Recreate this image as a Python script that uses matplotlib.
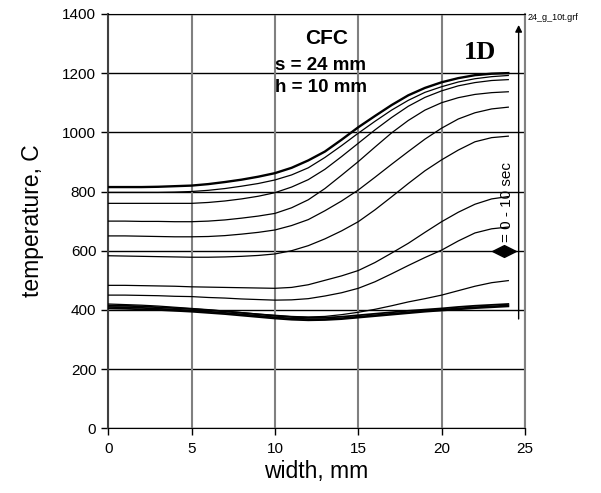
import matplotlib
matplotlib.use("Agg")
import matplotlib.pyplot as plt
from matplotlib.path import Path

plt.rcParams['font.family'] = ['Liberation Sans', 'DejaVu Sans']

width_mm = list(range(0, 25))

c1 = [815, 815, 815, 816, 818, 820, 825, 832, 840, 850, 862, 880, 905, 935, 975, 1017, 1055, 1092, 1125, 1150, 1169, 1183, 1193, 1198, 1200]
c2 = [797, 797, 797, 797, 798, 800, 804, 810, 818, 827, 839, 856, 880, 915, 955, 997, 1037, 1075, 1108, 1135, 1154, 1170, 1181, 1188, 1192]
c3 = [760, 760, 760, 760, 760, 760, 763, 768, 775, 784, 796, 815, 840, 875, 918, 963, 1008, 1050, 1088, 1118, 1140, 1157, 1168, 1175, 1178]
c4 = [700, 700, 699, 699, 698, 698, 700, 704, 710, 717, 726, 745, 772, 810, 855, 901, 950, 998, 1040, 1075, 1100, 1117, 1128, 1134, 1137]
c5 = [650, 650, 649, 648, 647, 647, 648, 651, 656, 662, 670, 685, 705, 735, 768, 805, 848, 892, 935, 977, 1014, 1045, 1066, 1079, 1085]
c6 = [583, 582, 581, 580, 579, 578, 578, 579, 581, 584, 589, 600, 617, 640, 667, 698, 738, 782, 827, 870, 907, 940, 968, 982, 987]
c7 = [483, 483, 482, 481, 480, 478, 477, 476, 475, 474, 473, 476, 485, 500, 515, 533, 560, 592, 625, 662, 698, 730, 757, 775, 783]
c8 = [450, 450, 449, 448, 446, 445, 442, 440, 437, 435, 433, 434, 438, 447, 458, 473, 495, 522, 550, 577, 602, 633, 660, 674, 680]
c9 = [420, 418, 416, 413, 409, 405, 401, 396, 391, 386, 382, 378, 376, 378, 384, 392, 402, 414, 427, 438, 450, 465, 480, 492, 499]
b1 = [415, 414, 412, 409, 406, 403, 399, 395, 390, 385, 380, 376, 374, 374, 377, 382, 387, 392, 397, 401, 405, 410, 414, 417, 420]
b2 = [410, 409, 407, 404, 401, 398, 394, 390, 385, 380, 375, 371, 369, 369, 372, 377, 382, 387, 392, 397, 401, 405, 409, 412, 415]
b3 = [405, 404, 402, 400, 397, 394, 390, 386, 381, 376, 371, 367, 365, 366, 369, 374, 379, 384, 389, 394, 398, 402, 406, 409, 412]

thin_curves = [c2, c3, c4, c5, c6, c7, c8, c9]
bunch_curves = [b1, b2, b3]

x_ticks = [0, 5, 10, 15, 20, 25]
y_ticks = [0, 200, 400, 600, 800, 1000, 1200, 1400]

fig = plt.figure(figsize=(6.01, 4.93), dpi=100)
ax = fig.add_axes([0.180, 0.1312, 0.6935, 0.8406])

ax.set_xlim(0, 25)
ax.set_ylim(0, 1400)
ax.set_xticks(x_ticks)
ax.set_yticks(y_ticks)
ax.tick_params(axis='both', direction='out', length=5, width=1, labelsize=11, colors='black')
ax.tick_params(axis='x', pad=5)

for yv in y_ticks:
    ax.axhline(yv, color='black', lw=1.0, zorder=1)
for xv in x_ticks:
    ax.axvline(xv, color='#808080', lw=1.5, zorder=1)

ax.spines['left'].set_color('#404040')
ax.spines['left'].set_linewidth(1.5)
ax.spines['right'].set_color('#808080')
ax.spines['right'].set_linewidth(1.5)
ax.spines['top'].set_color('black')
ax.spines['bottom'].set_color('black')

for c in thin_curves:
    ax.plot(width_mm, c, color='black', lw=0.9, zorder=3)
ax.plot(width_mm, c1, color='black', lw=1.7, zorder=3)
for c in bunch_curves:
    ax.plot(width_mm, c, color='black', lw=1.3, zorder=3)

ax.set_xlabel('width, mm', fontsize=16.5, labelpad=3)
ax.set_ylabel('temperature, C', fontsize=16.5, labelpad=13)

ax.text(13.1, 1318, 'CFC', fontsize=15, fontweight='bold', ha='center', va='center')
ax.text(10.0, 1225, 's = 24 mm', fontsize=13.5, fontweight='bold', ha='left', va='center')
ax.text(10.0, 1153, 'h = 10 mm', fontsize=13.5, fontweight='bold', ha='left', va='center')
ax.text(22.3, 1271, '1D', fontsize=19, fontweight='bold', ha='center', va='center',
        family=['Liberation Serif', 'DejaVu Serif'])

ax.annotate('', xy=(24.62, 1372), xytext=(24.62, 360),
            arrowprops=dict(arrowstyle='-|>', color='black', lw=1.0, mutation_scale=10),
            annotation_clip=False)
ax.text(23.9, 765, '= 0 - 10 sec', rotation=90, fontsize=11, ha='center', va='center')

diamond = Path([(-1, 0), (0, 0.5), (1, 0), (0, -0.5), (-1, 0)],
               [Path.MOVETO, Path.LINETO, Path.LINETO, Path.LINETO, Path.CLOSEPOLY])
ax.plot([23.75], [600], marker=diamond, markersize=17, color='black', zorder=4)

fig.text(0.877, 0.965, '24_g_10t.grf', fontsize=6.5, ha='left', va='center')

fig.savefig('out.png', dpi=100)
